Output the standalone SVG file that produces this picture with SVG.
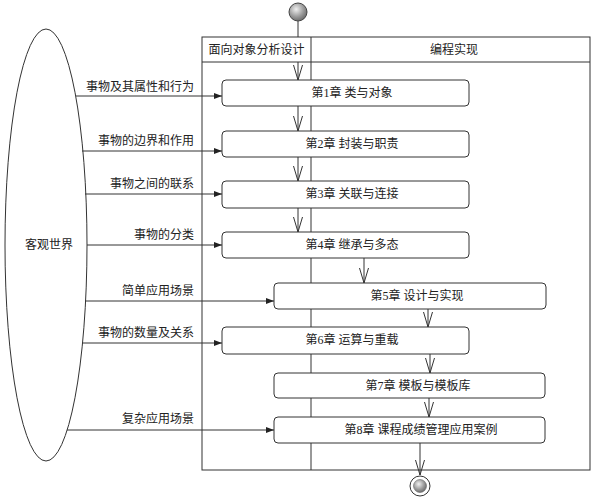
<svg xmlns="http://www.w3.org/2000/svg" width="598" height="500" viewBox="0 0 598 500">
<style>
.t{font-family:"Liberation Serif","Noto Sans CJK SC",serif;font-size:12px;fill:#222}
.m{text-anchor:middle}
.e{text-anchor:end}
.frame{fill:none;stroke:#333;stroke-width:1}
.box{fill:#fff;stroke:#333;stroke-width:1}
.flow{stroke:#333;stroke-width:1;fill:none;marker-end:url(#vopen)}
.in{stroke:#333;stroke-width:1;fill:none;marker-end:url(#solid)}
</style>
<defs>
<marker id="vopen" markerUnits="userSpaceOnUse" markerWidth="17" markerHeight="12" refX="15" refY="5.5" orient="auto">
<path d="M0,1 L15,5.5 L0,10" fill="none" stroke="#333" stroke-width="1"/>
</marker>
<marker id="solid" markerUnits="userSpaceOnUse" markerWidth="10" markerHeight="8" refX="8" refY="4" orient="auto">
<path d="M0,1 L8,4 L0,7 Z" fill="#222"/>
</marker>
<radialGradient id="g" cx="0.4" cy="0.35" r="0.7">
<stop offset="0" stop-color="#f0f0f0"/>
<stop offset="0.6" stop-color="#999"/>
<stop offset="1" stop-color="#666"/>
</radialGradient>
</defs>

<g id="swimlanes">
<rect class="frame" x="202" y="37" width="388" height="433"/>
<line class="frame" x1="202" y1="62" x2="590" y2="62"/>
<line class="frame" x1="311" y1="37" x2="311" y2="470"/>
<text class="t m" x="256.5" y="54">面向对象分析设计</text>
<text class="t m" x="454" y="54">编程实现</text>
</g>

<g id="world">
<ellipse cx="46" cy="245" rx="41" ry="216" fill="#fff" stroke="#333" stroke-width="1"/>
<text class="t m" x="49" y="249">客观世界</text>
</g>

<g id="connectors">
<line class="flow" x1="298" y1="21" x2="298" y2="37" style="marker-end:none"/>
<line class="flow" x1="298" y1="62" x2="298" y2="80"/>
<line class="flow" x1="298" y1="106" x2="298" y2="131"/>
<line class="flow" x1="298" y1="157" x2="298" y2="181"/>
<line class="flow" x1="298" y1="208" x2="298" y2="232"/>
<line class="flow" x1="364" y1="258" x2="364" y2="283"/>
<line class="flow" x1="428" y1="309" x2="428" y2="327"/>
<line class="flow" x1="430" y1="354" x2="430" y2="373"/>
<line class="flow" x1="429" y1="398" x2="429" y2="417"/>
<line class="flow" x1="420" y1="443" x2="420" y2="475"/>

<line class="in" x1="76" y1="96" x2="222" y2="96"/>
<line class="in" x1="82" y1="151" x2="222" y2="151"/>
<line class="in" x1="85" y1="194" x2="222" y2="194"/>
<line class="in" x1="87" y1="245" x2="222" y2="245"/>
<line class="in" x1="85" y1="301" x2="274" y2="301"/>
<line class="in" x1="82" y1="343" x2="222" y2="343"/>
<line class="in" x1="67" y1="430" x2="274" y2="430"/>

<text class="t e" x="194" y="91">事物及其属性和行为</text>
<text class="t e" x="194" y="145">事物的边界和作用</text>
<text class="t e" x="194" y="188">事物之间的联系</text>
<text class="t e" x="194" y="239">事物的分类</text>
<text class="t e" x="194" y="295">简单应用场景</text>
<text class="t e" x="194" y="337">事物的数量及关系</text>
<text class="t e" x="194" y="423">复杂应用场景</text>
</g>

<g id="start">
<circle cx="298" cy="12" r="9" fill="url(#g)" stroke="#444" stroke-width="1"/>
</g>

<g id="ch1"><rect class="box" x="222" y="80" width="247" height="26" rx="4"/><text class="t m" x="352" y="97">第1章 类与对象</text></g>
<g id="ch2"><rect class="box" x="222" y="131" width="247" height="26" rx="4"/><text class="t m" x="352" y="148">第2章 封装与职责</text></g>
<g id="ch3"><rect class="box" x="222" y="181" width="247" height="27" rx="4"/><text class="t m" x="352" y="198">第3章 关联与连接</text></g>
<g id="ch4"><rect class="box" x="222" y="232" width="247" height="26" rx="4"/><text class="t m" x="352" y="249">第4章 继承与多态</text></g>
<g id="ch5"><rect class="box" x="274" y="283" width="272" height="26" rx="4"/><text class="t m" x="417" y="300">第5章 设计与实现</text></g>
<g id="ch6"><rect class="box" x="222" y="327" width="247" height="27" rx="4"/><text class="t m" x="352" y="344">第6章 运算与重载</text></g>
<g id="ch7"><rect class="box" x="274" y="373" width="271" height="25" rx="4"/><text class="t m" x="418" y="390">第7章 模板与模板库</text></g>
<g id="ch8"><rect class="box" x="274" y="417" width="271" height="26" rx="4"/><text class="t m" x="421" y="434">第8章 课程成绩管理应用案例</text></g>

<g id="end">
<circle cx="420" cy="486" r="10" fill="#fff" stroke="#333" stroke-width="1"/>
<circle cx="420" cy="486" r="6.5" fill="url(#g)" stroke="#555" stroke-width="0.5"/>
</g>
</svg>
